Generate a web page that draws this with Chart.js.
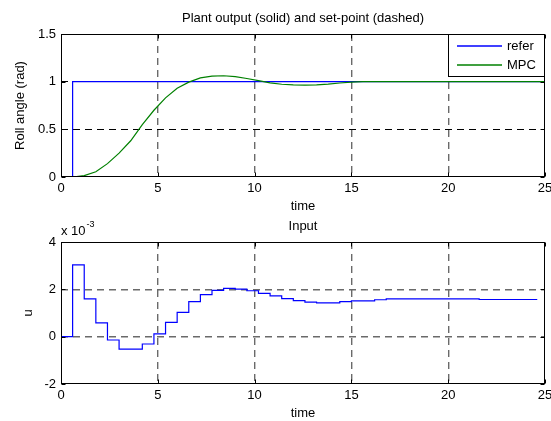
<!DOCTYPE html>
<html>
<head>
<meta charset="utf-8">
<script src="https://cdn.jsdelivr.net/npm/chart.js@4"></script>
<style>
  html, body { margin: 0; padding: 0; background: #fff; }
  #wrap { position: relative; width: 551px; height: 421px; overflow: hidden; }
  canvas { position: absolute; left: 0; }
  #top { top: 0; }
  #bottom { top: 215px; }
</style>
</head>
<body>
<div id="wrap">
  <canvas id="top" width="551" height="215"></canvas>
  <canvas id="bottom" width="551" height="206"></canvas>
</div>
<script>
// tick labels
const xTicks = [0, 5, 10, 15, 20, 25];
const yTicksTop = [0, 0.5, 1, 1.5];
const yTicksBottom = [-2, 0, 2, 4];

// series names
const seriesNames = ['refer', 'MPC'];

// set-point
const refTime = [0, 0.6, 25];
const refValue = [0, 1, 1];

// plant output (roll angle), sample time 0.6
const mpcTime = [0, 0.6, 1.2, 1.8, 2.4, 3.0, 3.6, 4.2, 4.8, 5.4, 6.0, 6.6, 7.2, 7.8, 8.4, 9.0,
  9.6, 10.2, 10.8, 11.4, 12.0, 12.6, 13.2, 13.8, 14.4, 15.0, 15.6, 16.2, 16.8, 17.4, 18.0,
  18.6, 19.2, 19.8, 20.4, 21.0, 21.6, 22.2, 22.8, 23.4, 24.0, 24.6, 25];
const mpcValue = [0, 0, 0.015, 0.055, 0.14, 0.25, 0.38, 0.55, 0.70, 0.83, 0.93, 0.995, 1.04, 1.058, 1.062, 1.053,
  1.033, 1.01, 0.988, 0.973, 0.966, 0.964, 0.966, 0.974, 0.986, 0.996, 1.0, 1.0, 1.0, 1.0, 1.0,
  1.0, 1.0, 1.0, 1.0, 1.0, 1.0, 1.0, 1.0, 1.0, 1.0, 1.0, 1.0];

// control input u (x 10^-3), zero-order hold
const uTime = [0, 0.6, 1.2, 1.8, 2.4, 3.0, 3.6, 4.2, 4.8, 5.4, 6.0, 6.6, 7.2, 7.8, 8.4, 9.0,
  9.6, 10.2, 10.8, 11.4, 12.0, 12.6, 13.2, 13.8, 14.4, 15.0, 15.6, 16.2, 16.8, 17.4, 18.0,
  18.6, 19.2, 19.8, 20.4, 21.0, 21.6, 22.2, 22.8, 23.4, 24.0, 24.6];
const uValue = [0, 3.03, 1.6, 0.58, -0.14, -0.53, -0.53, -0.31, 0.12, 0.6, 1.03, 1.48, 1.78, 1.96, 2.04, 2.01,
  1.94, 1.83, 1.72, 1.61, 1.52, 1.46, 1.43, 1.43, 1.48, 1.51, 1.51, 1.56, 1.6, 1.6, 1.6,
  1.6, 1.6, 1.6, 1.6, 1.6, 1.57, 1.57, 1.57, 1.57, 1.57, 1.57];

const BLUE = '#0000ff';
const GREEN = '#008000';
const FONT = "'Liberation Sans', Arial, sans-serif";
Chart.defaults.font.family = FONT;
Chart.defaults.font.size = 13;
Chart.defaults.color = '#000';

const pts = (xs, ys) => xs.map((x, i) => ({ x: x, y: ys[i] }));

// MATLAB-like box, inward ticks, legend and exponent label
const frame = {
  id: 'frame',
  afterDatasetsDraw(chart, args, opts) {
    const { ctx, chartArea: a, scales } = chart;
    const l = Math.round(a.left) + 0.5, r = Math.round(a.right) - 0.5;
    const t = Math.round(a.top) + 0.5, b = Math.round(a.bottom) - 0.5;
    ctx.save();
    ctx.setLineDash([]);
    ctx.strokeStyle = '#000';
    ctx.lineWidth = 1;
    ctx.strokeRect(l, t, r - l, b - t);
    ctx.beginPath();
    scales.x.ticks.forEach(tk => {
      const px = Math.round(scales.x.getPixelForValue(tk.value)) + 0.5;
      ctx.moveTo(px, b); ctx.lineTo(px, b - 4);
      ctx.moveTo(px, t); ctx.lineTo(px, t + 4);
    });
    scales.y.ticks.forEach(tk => {
      const py = Math.round(scales.y.getPixelForValue(tk.value)) + 0.5;
      ctx.moveTo(l, py); ctx.lineTo(l + 4, py);
      ctx.moveTo(r, py); ctx.lineTo(r - 4, py);
    });
    ctx.stroke();

    if (opts.legend) {
      const bx = 448.5, by = Math.round(a.top) + 0.5, bw = r - bx, bh = 42;
      ctx.fillStyle = '#fff';
      ctx.fillRect(bx, by, bw, bh);
      ctx.strokeStyle = '#000';
      ctx.strokeRect(bx, by, bw, bh);
      ctx.font = '13px ' + FONT;
      ctx.textBaseline = 'middle';
      opts.legend.forEach((item, i) => {
        const y = Math.round(by + 11 + i * 19);
        ctx.beginPath();
        ctx.strokeStyle = item.color;
        ctx.lineWidth = 1.3;
        ctx.moveTo(457, y); ctx.lineTo(502, y);
        ctx.stroke();
        ctx.fillStyle = '#000';
        ctx.fillText(item.label, 507, y);
      });
    }

    if (opts.exponent) {
      ctx.fillStyle = '#000';
      ctx.textBaseline = 'alphabetic';
      ctx.font = '13px ' + FONT;
      ctx.fillText('x 10', l - 0.5, a.top - 7);
      const w = ctx.measureText('x 10').width;
      ctx.font = '9px ' + FONT;
      ctx.fillText(opts.exponent, l + w + 0.5, a.top - 15);
    }
    ctx.restore();
  }
};

function axes(yTicks, yTitle, yTitlePad, xTitlePad, yMin, yMax, hGridColor, xHeight) {
  const edgeHidden = (lo, hi, col) => c => (c.tick && (c.tick.value === lo || c.tick.value === hi)) ? 'rgba(0,0,0,0)' : col;
  return {
    x: {
      type: 'linear', min: 0, max: 25,
      afterBuildTicks: s => { s.ticks = xTicks.map(v => ({ value: v })); },
      afterFit: s => { s.height = xHeight; s.paddingLeft = 0; s.paddingRight = 0; },
      ticks: { padding: 3.5, callback: v => String(v), maxRotation: 0, autoSkip: false },
      grid: { color: edgeHidden(0, 25, '#6a6a6a'), lineWidth: 1.4, drawTicks: false },
      border: { display: false, dash: [7, 5] },
      title: { display: true, text: 'time', padding: { top: 0, bottom: xTitlePad } }
    },
    y: {
      type: 'linear', min: yMin, max: yMax,
      afterBuildTicks: s => { s.ticks = yTicks.map(v => ({ value: v })); },
      afterFit: s => { s.width = 61; s.paddingTop = 0; s.paddingBottom = 0; },
      ticks: { padding: 5, callback: v => String(v), autoSkip: false },
      grid: { color: edgeHidden(yMin, yMax, hGridColor), lineWidth: hGridColor === '#000' ? 1 : 1.4, drawTicks: false },
      border: { display: false, dash: [7, 5] },
      title: { display: true, text: yTitle, padding: { top: yTitlePad, bottom: 0 } }
    }
  };
}

new Chart(document.getElementById('top'), {
  type: 'line',
  data: {
    datasets: [
      { label: seriesNames[0], data: pts(refTime, refValue), borderColor: BLUE, borderWidth: 1.2, stepped: true, pointRadius: 0, order: 2 },
      { label: seriesNames[1], data: pts(mpcTime, mpcValue), borderColor: GREEN, borderWidth: 1.2, pointRadius: 0, tension: 0, order: 1 }
    ]
  },
  options: {
    responsive: false,
    animation: false,
    layout: { padding: { left: 0, right: 6, top: 0, bottom: 0 } },
    plugins: {
      legend: { display: false },
      tooltip: { enabled: false },
      title: {
        display: true, fullSize: false,
        text: 'Plant output (solid) and set-point (dashed)',
        font: { size: 13, weight: 'normal' },
        padding: { top: 10.2, bottom: 8.2 }
      },
      frame: { legend: [{ label: seriesNames[0], color: BLUE }, { label: seriesNames[1], color: GREEN }] }
    },
    scales: axes(yTicksTop, 'Roll angle (rad)', 12.2, 1.2, 0, 1.5, '#000', 38)
  },
  plugins: [frame]
});

new Chart(document.getElementById('bottom'), {
  type: 'line',
  data: {
    datasets: [
      { label: 'u', data: pts(uTime, uValue), borderColor: BLUE, borderWidth: 1.2, stepped: true, pointRadius: 0 }
    ]
  },
  options: {
    responsive: false,
    animation: false,
    layout: { padding: { left: 0, right: 6, top: 0, bottom: 0 } },
    plugins: {
      legend: { display: false },
      tooltip: { enabled: false },
      title: {
        display: true, fullSize: false,
        text: 'Input',
        font: { size: 13, weight: 'normal' },
        padding: { top: 3.2, bottom: 8.2 }
      },
      frame: { exponent: '-3' }
    },
    scales: axes(yTicksBottom, 'u', 20.2, 0.2, -2, 4, '#6a6a6a', 37)
  },
  plugins: [frame]
});
</script>
</body>
</html>
